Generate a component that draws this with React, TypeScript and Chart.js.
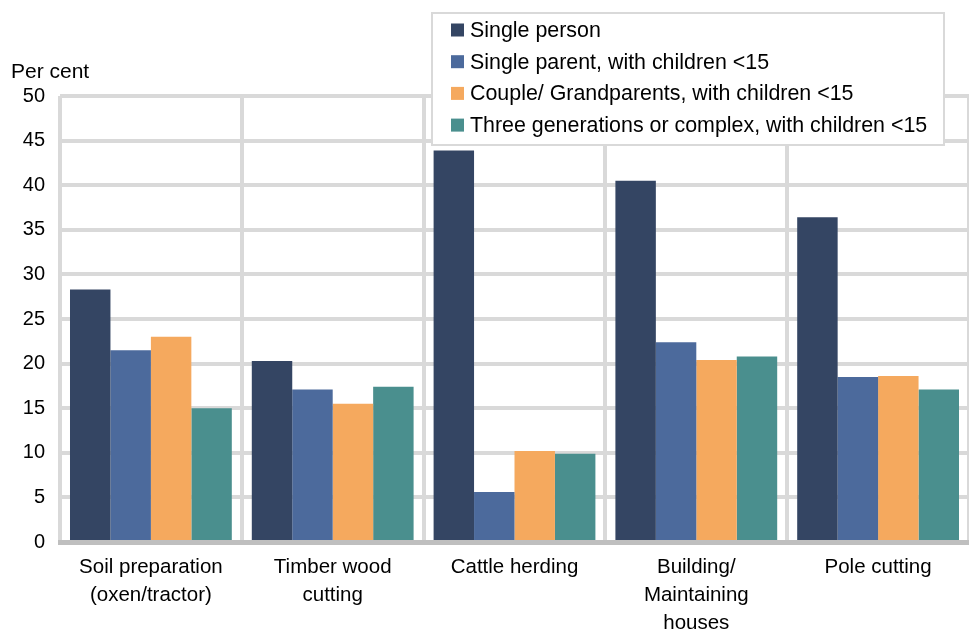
import React, { useEffect, useRef } from "react";
import { Chart, registerables } from "chart.js";

Chart.register(...registerables);

const categories: (string | string[])[] = [
  ["Soil preparation", "(oxen/tractor)"],
  ["Timber wood", "cutting"],
  "Cattle herding",
  ["Building/", "Maintaining", "houses"],
  "Pole cutting",
];

const seriesNames = [
  "Single person",
  "Single parent, with children <15",
  "Couple/ Grandparents, with children <15",
  "Three generations or complex, with children <15",
];

const singlePerson = [28.3, 20.3, 43.9, 40.5, 36.4];
const singleParent = [21.5, 17.1, 5.6, 22.4, 18.5];
const couple = [23.0, 15.5, 10.2, 20.4, 18.6];
const threeGen = [15.0, 17.4, 9.9, 20.8, 17.1];

const colors = ["#344563", "#4C6A9C", "#F5A95E", "#4A8F8E"];
const yTicks = [0, 5, 10, 15, 20, 25, 30, 35, 40, 45, 50];

const FONT = "'Liberation Sans', Arial, sans-serif";

const overlayPlugin = {
  id: "overlay",
  afterDraw(chart: any) {
    const ctx = chart.ctx;
    ctx.save();
    // "Per cent" title
    ctx.fillStyle = "#000";
    ctx.font = `21px ${FONT}`;
    ctx.textBaseline = "middle";
    ctx.textAlign = "left";
    ctx.fillText("Per cent", 11, 72);
    // legend box
    const x0 = 432, y0 = 13, w = 512, h = 132;
    ctx.fillStyle = "#ffffff";
    ctx.fillRect(x0, y0, w, h);
    ctx.strokeStyle = "#d9d9d9";
    ctx.lineWidth = 2;
    ctx.strokeRect(x0, y0, w, h);
    ctx.font = `21.4px ${FONT}`;
    chart.data.datasets.forEach((ds: any, i: number) => {
      const cy = 30 + i * 31.7;
      ctx.fillStyle = ds.backgroundColor;
      ctx.fillRect(451, cy - 6.5, 13, 13);
      ctx.fillStyle = "#000";
      ctx.fillText(ds.label, 470, cy + 1);
    });
    ctx.restore();
  },
};

export default function App() {
  const ref = useRef<HTMLCanvasElement>(null);
  useEffect(() => {
    const seriesData = [singlePerson, singleParent, couple, threeGen];
    const chart = new Chart(ref.current!, {
      type: "bar",
      data: {
        labels: categories,
        datasets: seriesNames.map((name, i) => ({
          label: name,
          data: seriesData[i],
          backgroundColor: colors[i],
          borderWidth: 0,
          categoryPercentage: 0.89,
          barPercentage: 1,
        })),
      },
      options: {
        animation: false,
        responsive: false,
        maintainAspectRatio: false,
        layout: { padding: { top: 96, right: 0, left: 0, bottom: 0 } },
        plugins: { legend: { display: false }, tooltip: { enabled: false } },
        scales: {
          x: {
            grid: {
              offset: true,
              color: "#d9d9d9",
              lineWidth: 4,
              drawTicks: false,
            },
            border: { display: true, color: "#bfbfbf", width: 5 },
            ticks: {
              color: "#000",
              font: { family: FONT, size: 20.5, lineHeight: 1.37 },
              padding: 11,
              maxRotation: 0,
              autoSkip: false,
            },
            afterFit(scale: any) {
              scale.height = 90;
            },
          },
          y: {
            min: 0,
            max: 50,
            afterBuildTicks(scale: any) {
              scale.ticks = yTicks.map((v) => ({ value: v }));
            },
            grid: {
              color: "#d9d9d9",
              lineWidth: 4,
              drawTicks: false,
            },
            border: { display: false },
            ticks: {
              color: "#000",
              font: { family: FONT, size: 20 },
              padding: 15,
            },
            afterFit(scale: any) {
              scale.width = 60;
            },
          },
        },
      },
      plugins: [overlayPlugin],
    });
    return () => chart.destroy();
  }, []);
  return (
    <div style={{ position: "fixed", left: 0, top: 0, width: 969, height: 632, background: "#fff" }}>
      <canvas ref={ref} width={969} height={632} style={{ width: 969, height: 632 }} />
    </div>
  );
}
